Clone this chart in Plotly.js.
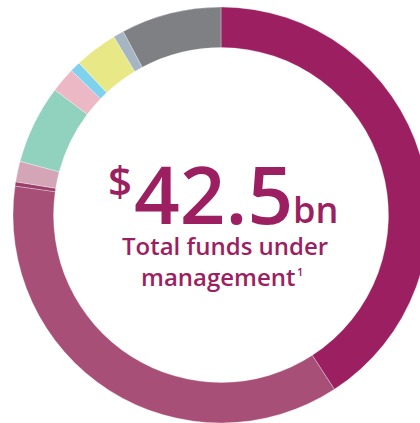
<!DOCTYPE html>
<html>
<head>
<meta charset="utf-8">
<script src="https://cdn.plot.ly/plotly-3.0.1.min.js"></script>
<style>
  html, body { margin: 0; padding: 0; overflow: hidden; background: #ffffff; width: 420px; height: 423px; }
  #chart { width: 442px; height: 423px; }
</style>
</head>
<body>
<div id="chart"></div>
<script>
// Funds under management by segment ($bn), clockwise from 12 o'clock
const segments = ["Segment 1", "Segment 2", "Segment 3", "Segment 4", "Segment 5",
                  "Segment 6", "Segment 7", "Segment 8", "Segment 9", "Segment 10"];
const fundsBn = [17.35, 15.47, 0.14, 0.68, 2.60, 0.83, 0.35, 1.42, 0.35, 3.31];
const sliceColors = ["#9C1F61", "#A84F78", "#9A3F6B", "#D3A5B6", "#91D2BF",
                     "#ECB8C5", "#7FD2EE", "#E9E886", "#A6B5C2", "#7F8084"];
const headline = { prefix: "$", value: "42.5", suffix: "bn" };
const subtitleLines = ["Total funds under", "management"];
const footnoteMark = "1";

const textColor = "#9C1F61";
const fontFam = "'Open Sans', sans-serif";

// plot-area geometry helpers (pixel -> paper)
const L = 13, T = 7, S = 416;
const px = x => (x - L) / S;
const py = y => 1 - (y - T) / S;

const trace = {
  type: "pie",
  labels: segments,
  values: fundsBn,
  sort: false,
  direction: "clockwise",
  rotation: 0,
  hole: 0.805,
  marker: { colors: sliceColors, line: { color: "rgba(255,255,255,0.6)", width: 0.5 } },
  textinfo: "none",
  hoverinfo: "label+value",
  showlegend: false
};

function ann(text, x, y, xanchor, size) {
  return { text: text, x: px(x), y: py(y), xref: "paper", yref: "paper",
           xanchor: xanchor, yanchor: "middle", showarrow: false, borderpad: 0,
           font: { family: fontFam, size: size, color: textColor, weight: 600 } };
}

const layout = {
  width: 442,
  height: 423,
  margin: { l: L, r: 442 - L - S, t: T, b: 423 - T - S },
  paper_bgcolor: "#ffffff",
  showlegend: false,
  annotations: [
    ann(headline.value, 213, 192, "center", 80),
    ann(headline.prefix, 133, 179, "right", 42),
    ann(headline.suffix, 292, 209, "left", 36),
    ann(subtitleLines[0], 225, 245, "center", 24),
    ann(subtitleLines[1], 218, 276, "center", 24),
    ann(footnoteMark, 296, 271, "left", 11)
  ]
};

Plotly.newPlot("chart", [trace], layout, { displayModeBar: false, staticPlot: true });
</script>
</body>
</html>
